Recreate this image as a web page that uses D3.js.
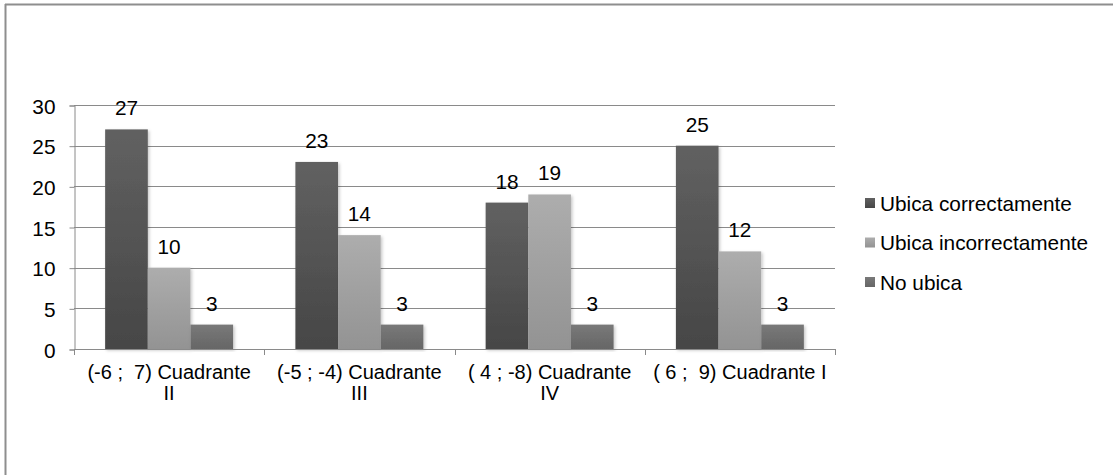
<!DOCTYPE html>
<html>
<head>
<meta charset="utf-8">
<script src="https://cdn.jsdelivr.net/npm/d3@7/dist/d3.min.js"></script>
<style>
  html, body { margin: 0; padding: 0; background: #fff; }
  svg text { font-family: "Liberation Sans", Arial, sans-serif; fill: #000; white-space: pre; }
</style>
</head>
<body>
<svg id="chart" width="1113" height="475"></svg>
<script>
// Categories (each label split into its wrapped lines)
const categories = ["(-6 ;  7) Cuadrante II", "(-5 ; -4) Cuadrante III", "( 4 ; -8) Cuadrante IV", "( 6 ;  9) Cuadrante I"];
const categoryLines = [["(-6 ;  7) Cuadrante", "II"], ["(-5 ; -4) Cuadrante", "III"], ["( 4 ; -8) Cuadrante", "IV"], ["( 6 ;  9) Cuadrante I"]];
const seriesNames = ["Ubica correctamente", "Ubica incorrectamente", "No ubica"];
const correcta = [27, 23, 18, 25];
const incorrecta = [10, 14, 19, 12];
const noUbica = [3, 3, 3, 3];
const yTicks = [0, 5, 10, 15, 20, 25, 30];

const seriesValues = [correcta, incorrecta, noUbica];
const gradStops = [["#616161", "#464646"], ["#adadad", "#939393"], ["#797979", "#666666"]];
const FS = 20.8;

const svg = d3.select("#chart");
const defs = svg.append("defs");

gradStops.forEach((c, i) => {
  const g = defs.append("linearGradient").attr("id", "grad" + i)
    .attr("x1", 0).attr("y1", 0).attr("x2", 0).attr("y2", 1);
  g.append("stop").attr("offset", "0%").attr("stop-color", c[0]);
  g.append("stop").attr("offset", "100%").attr("stop-color", c[1]);
});
const shadow = defs.append("filter").attr("id", "shadow")
  .attr("x", "-20%").attr("y", "-5%").attr("width", "150%").attr("height", "115%");
shadow.append("feDropShadow").attr("dx", 1.5).attr("dy", 1.5)
  .attr("stdDeviation", 1.5).attr("flood-color", "#000").attr("flood-opacity", 0.22);

// Outer frame (top and left edges visible)
svg.append("line").attr("x1", 5).attr("x2", 1113).attr("y1", 4.5).attr("y2", 4.5)
  .attr("stroke", "#8e8e8e").attr("stroke-width", 2);
svg.append("line").attr("x1", 5.5).attr("x2", 5.5).attr("y1", 4).attr("y2", 475)
  .attr("stroke", "#8e8e8e").attr("stroke-width", 2);

const plot = { left: 74, right: 835, top: 105, bottom: 349 };

const y = d3.scaleLinear().domain([0, 30]).range([plot.bottom, plot.top]);
const x0 = d3.scaleBand().domain(categories).range([plot.left, plot.right]).padding(0);
const x1 = d3.scaleBand().domain(seriesNames).range([0, x0.bandwidth()])
  .paddingInner(0).paddingOuter(0.73);

// Gridlines
svg.append("g").selectAll("line").data(yTicks.filter(t => t > 0)).join("line")
  .attr("x1", plot.left).attr("x2", plot.right)
  .attr("y1", d => Math.round(y(d)) + 0.5).attr("y2", d => Math.round(y(d)) + 0.5)
  .attr("stroke", "#8a8a8a").attr("stroke-width", 1);

// Y axis
const yAxis = svg.append("g").attr("transform", `translate(${plot.left + 0.5},0.5)`)
  .call(d3.axisLeft(y).tickValues(yTicks).tickSize(5).tickPadding(14));
yAxis.select(".domain").attr("stroke", "#8a8a8a");
yAxis.selectAll(".tick line").attr("stroke", "#8a8a8a");
yAxis.selectAll(".tick text").attr("font-size", FS).attr("font-family", "Liberation Sans, Arial, sans-serif")
  .attr("fill", "#000").attr("dy", "0.36em");

// Bars
const groups = svg.append("g").selectAll("g").data(categories).join("g")
  .attr("transform", d => `translate(${x0(d)},0)`);

groups.each(function (cat, ci) {
  const g = d3.select(this);
  seriesNames.forEach((s, si) => {
    const v = seriesValues[si][ci];
    g.append("rect")
      .attr("x", x1(s)).attr("width", x1.bandwidth())
      .attr("y", y(v)).attr("height", y(0) - y(v))
      .attr("fill", `url(#grad${si})`).attr("filter", "url(#shadow)");
    g.append("text")
      .attr("x", x1(s) + x1.bandwidth() / 2).attr("y", y(v) - 14)
      .attr("text-anchor", "middle").attr("font-size", FS)
      .text(v);
  });
});

// X axis
const xAxisG = svg.append("g");
xAxisG.append("line").attr("x1", plot.left).attr("x2", plot.right)
  .attr("y1", plot.bottom + 0.5).attr("y2", plot.bottom + 0.5).attr("stroke", "#8a8a8a");
const boundaries = categories.map(c => x0(c)).concat([x0(categories[categories.length - 1]) + x0.bandwidth()]);
xAxisG.selectAll("line.tk").data(boundaries).join("line").attr("class", "tk")
  .attr("x1", d => Math.round(d) + 0.5).attr("x2", d => Math.round(d) + 0.5)
  .attr("y1", plot.bottom).attr("y2", plot.bottom + 6).attr("stroke", "#8a8a8a");

// Category labels, one text element per wrapped line
const catG = svg.append("g");
categories.forEach((d, i) => {
  categoryLines[i].forEach((line, li) => {
    catG.append("text")
      .attr("text-anchor", "middle").attr("font-size", 20)
      .attr("x", x0(d) + x0.bandwidth() / 2)
      .attr("y", 379 + li * 21).text(line);
  });
});

// Legend
const legend = svg.append("g").selectAll("g").data(seriesNames).join("g")
  .attr("transform", (d, i) => `translate(865,${203 + i * 39.5})`);
legend.append("rect").attr("x", 0).attr("y", -5).attr("width", 10).attr("height", 10)
  .attr("fill", (d, i) => `url(#grad${i})`);
legend.append("text").attr("x", 15).attr("y", 0).attr("dy", "0.36em")
  .attr("font-size", FS).text(d => d);
</script>
</body>
</html>
